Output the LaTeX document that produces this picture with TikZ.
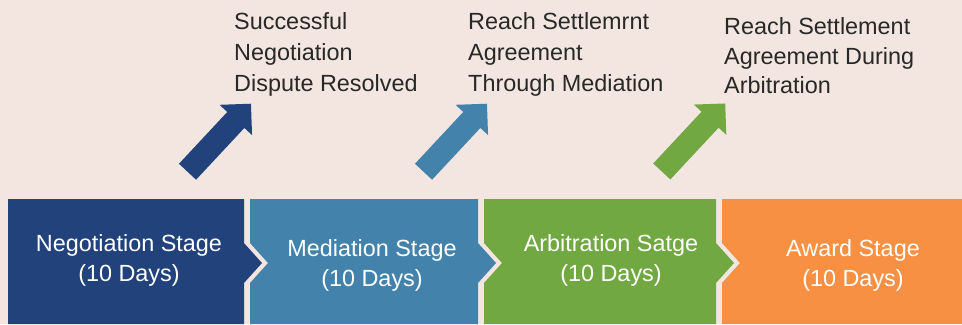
\documentclass[tikz,border=0pt]{standalone}
\usepackage{fontspec}
\setmainfont{Liberation Sans}
\usepackage{tikz}
\usetikzlibrary{shapes.arrows}

\definecolor{negblue}{RGB}{33,66,122}
\definecolor{medblue}{RGB}{66,130,171}
\definecolor{arbgreen}{RGB}{114,168,66}
\definecolor{awdorange}{RGB}{247,144,66}
\definecolor{backdrop}{RGB}{243,230,225}
\definecolor{outtext}{RGB}{40,40,40}

\tikzset{
	stagetext/.style={text=white, align=center, anchor=north, inner sep=0pt, font=\fontsize{23.5}{30}\selectfont},
	outcome/.style={text=outtext, align=left, anchor=north west, inner sep=0pt, font=\fontsize{23.5}{31}\selectfont},
	uparrow/.style={single arrow, single arrow tip angle=90, single arrow head extend=10.5bp, minimum height=93bp, minimum width=44bp, inner xsep=0pt, inner ysep=11.5bp, rotate=47}
}

\begin{document}
\begin{tikzpicture}[x=1bp, y=-1bp]
			\useasboundingbox (0, 0) rectangle (962, 324);
			\fill[fill=backdrop] (0, 0) rectangle (962, 324);
			% stage blocks
			\fill[fill=negblue] (8, 199) -- (244, 199) -- (244, 243) -- (262, 263) -- (244, 283) -- (244, 324) -- (8, 324) -- cycle;
			\fill[fill=medblue] (250, 199) -- (478, 199) -- (478, 243) -- (496, 263) -- (478, 283) -- (478, 324) -- (250, 324) -- (250, 283) -- (268, 263) -- (250, 243) -- cycle;
			\fill[fill=arbgreen] (484, 199) -- (716, 199) -- (716, 243) -- (734, 263) -- (716, 283) -- (716, 324) -- (484, 324) -- (484, 283) -- (502, 263) -- (484, 243) -- cycle;
			\fill[fill=awdorange] (722, 199) -- (962, 199) -- (962, 324) -- (722, 324) -- (722, 283) -- (740, 263) -- (722, 243) -- cycle;
			\node[stagetext] (negstage) at (129, 234.6) {Negotiation Stage\\(10 Days)};
			\node[stagetext] (medstage) at (372, 239) {Mediation Stage\\(10 Days)};
			\node[stagetext] (arbstage) at (611, 234.8) {Arbitration Satge\\(10 Days)};
			\node[stagetext] (awdstage) at (853, 239.8) {Award Stage\\(10 Days)};
			% outcome arrows
			\node[uparrow, fill=negblue] (negarrow) at (215.25, 142) {};
			\node[uparrow, fill=medblue] (medarrow) at (451.25, 142) {};
			\node[uparrow, fill=arbgreen] (arbarrow) at (689.5, 141.75) {};
			\node[outcome] (negout) at (234, 12.5) {Successful\\Negotiation\\Dispute Resolved};
			\node[outcome] (medout) at (468, 12.5) {Reach Settlemrnt\\Agreement\\Through Mediation};
			\node[outcome, font=\fontsize{23.5}{30}\selectfont] (arbout) at (724, 17) {Reach Settlement\\Agreement During\\Arbitration};
		\end{tikzpicture}
\end{document}
